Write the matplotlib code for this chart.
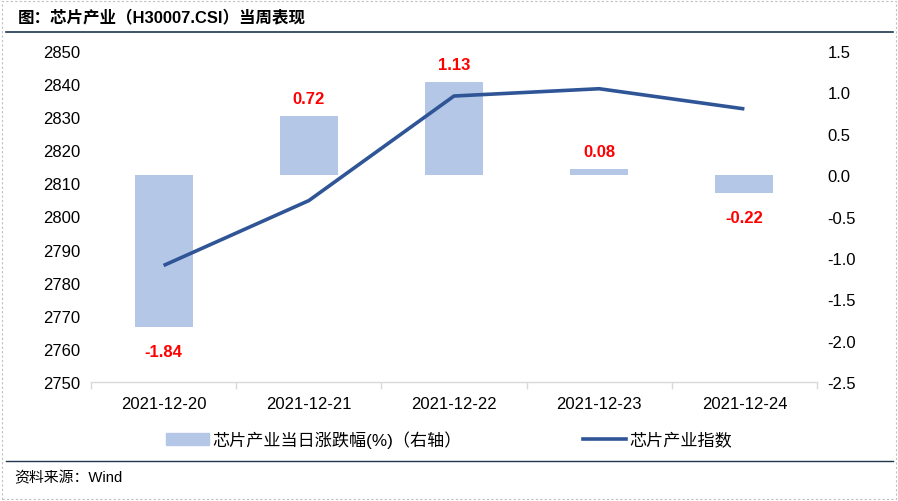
import matplotlib
matplotlib.use("Agg")
import matplotlib.pyplot as plt
from matplotlib.lines import Line2D
from matplotlib.patches import Rectangle
import numpy as np

plt.rcParams['font.family'] = ['Liberation Sans', 'Noto Sans CJK SC', 'DejaVu Sans']

dates = ["2021-12-20", "2021-12-21", "2021-12-22", "2021-12-23", "2021-12-24"]
pct_change = [-1.84, 0.72, 1.13, 0.08, -0.22]
index_values = [2785.2, 2804.8, 2836.4, 2838.6, 2832.5]
left_ticks = [2750, 2760, 2770, 2780, 2790, 2800, 2810, 2820, 2830, 2840, 2850]
right_ticks = [-2.5, -2.0, -1.5, -1.0, -0.5, 0.0, 0.5, 1.0, 1.5]

W, H = 898, 502
fig = plt.figure(figsize=(W / 100, H / 100), dpi=100)

# frame
fig.add_artist(Rectangle((2 / W, 2 / H), 1 - 4 / W, 1 - 4 / H, transform=fig.transFigure,
                         fill=False, edgecolor='#bfbfbf', linestyle=(0, (2, 2)), linewidth=0.8))
fig.add_artist(Line2D([6 / W, 893 / W], [1 - 33 / H, 1 - 33 / H], transform=fig.transFigure,
                      color='#1f3550', linewidth=1.2))
fig.add_artist(Line2D([6 / W, 893 / W], [1 - 462 / H, 1 - 462 / H], transform=fig.transFigure,
                      color='#1f3550', linewidth=1.0))
fig.text(18 / W, 1 - 17 / H, "图：芯片产业（H30007.CSI）当周表现", fontsize=11.9,
         fontweight='bold', va='center', ha='left', color='#000000')
fig.text(14 / W, 1 - 478 / H, "资料来源：Wind", fontsize=10.7, va='center', ha='left', color='#000000')

ax = fig.add_axes([91 / W, 1 - 383 / H, (817 - 91) / W, (383 - 52) / H])
ax2 = ax.twinx()
ax.set_zorder(ax2.get_zorder() + 1)
ax.patch.set_visible(False)

x = np.arange(len(dates))
ax2.bar(x, pct_change, width=0.4, color='#b4c7e7', zorder=1)
for xi, v in zip(x, pct_change):
    if v >= 0:
        ax2.text(xi, v + 0.12, f"{v:.2f}", ha='center', va='bottom', color='#ff0000',
                 fontweight='bold', fontsize=12)
    else:
        ax2.text(xi, v - 0.2, f"{v:.2f}", ha='center', va='top', color='#ff0000',
                 fontweight='bold', fontsize=12)

ax.plot(x, index_values, color='#2f5597', linewidth=2.6, solid_capstyle='butt', zorder=3)

ax.set_xlim(-0.5, len(dates) - 0.5)
ax.set_ylim(2750, 2850)
ax.set_yticks(left_ticks)
ax2.set_ylim(-2.5, 1.5)
ax2.set_yticks(right_ticks)
ax2.set_yticklabels([f"{t:.1f}" for t in right_ticks])

ax.set_xticks(x)
ax.set_xticklabels(dates)
ax.set_xticks(np.arange(-0.5, len(dates), 1.0), minor=True)
ax.tick_params(axis='x', which='major', length=0, pad=10, labelsize=12)
ax.tick_params(axis='x', which='minor', length=5, color='#d9d9d9', width=1)
ax.tick_params(axis='y', length=0, pad=7.5, labelsize=12)
ax2.tick_params(axis='y', length=0, pad=7.5, labelsize=12)

for a in (ax, ax2):
    for s in ('top', 'left', 'right'):
        a.spines[s].set_visible(False)
    a.spines['bottom'].set_color('#d9d9d9')
    a.spines['bottom'].set_linewidth(1)
ax2.spines['bottom'].set_visible(False)
ax2.tick_params(axis='x', length=0)

handles = [Rectangle((0, 0), 1, 1, color='#b4c7e7'),
           Line2D([0], [0], color='#2f5597', linewidth=2.6)]
labels = ["芯片产业当日涨跌幅(%)（右轴）", "芯片产业指数"]
fig.legend(handles, labels, loc='center', bbox_to_anchor=(449 / W, 1 - 440 / H), ncol=2,
           frameon=False, fontsize=12.3, columnspacing=7.1, handlelength=2.5, handletextpad=0.2)

fig.savefig("out.png", dpi=100)
